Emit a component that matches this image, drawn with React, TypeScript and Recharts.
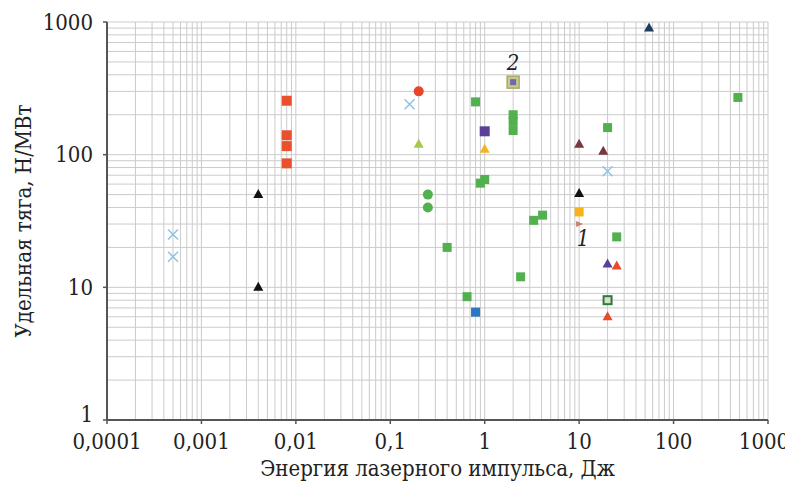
import React from "react";
import {
  ScatterChart,
  Scatter,
  XAxis,
  YAxis,
  CartesianGrid,
} from "recharts";

// ---- Axis ticks ----
const xTicks = [0.0001, 0.001, 0.01, 0.1, 1, 10, 100, 1000];
const xTickLabels = ["0,0001", "0,001", "0,01", "0,1", "1", "10", "100", "1000"];
const yTicks = [1, 10, 100, 1000];
const yTickLabels = ["1", "10", "100", "1000"];

const xTitle = "Энергия лазерного импульса, Дж";
const yTitle = "Удельная тяга, Н/МВт";

// minor grid values (1..9 for each decade)
const mult = [1, 2, 3, 4, 5, 6, 7, 8, 9];
const xGrid: number[] = [];
[0.0001, 0.001, 0.01, 0.1, 1, 10, 100].forEach((d) => mult.forEach((m) => xGrid.push(+(d * m).toPrecision(3))));
xGrid.push(1000);
const yGrid: number[] = [];
[1, 10, 100].forEach((d) => mult.forEach((m) => yGrid.push(d * m)));
yGrid.push(1000);

// ---- Data series (x: energy J, y: N/MW) ----
const redSquares = [
  { x: 0.008, y: 255 },
  { x: 0.008, y: 140 },
  { x: 0.008, y: 116 },
  { x: 0.008, y: 86 },
];
const blackTriangles = [
  { x: 0.004, y: 50 },
  { x: 0.004, y: 10 },
  { x: 10, y: 51 },
];
const lightBlueCrosses = [
  { x: 0.0005, y: 25 },
  { x: 0.0005, y: 17 },
  { x: 0.16, y: 240 },
  { x: 20, y: 75 },
];
const redCircles = [{ x: 0.2, y: 300 }];
const greenCircles = [
  { x: 0.25, y: 50 },
  { x: 0.25, y: 40 },
];
const greenSquares = [
  { x: 0.8, y: 250 },
  { x: 2, y: 200 },
  { x: 2, y: 178 },
  { x: 2, y: 152 },
  { x: 0.9, y: 61 },
  { x: 1, y: 65 },
  { x: 0.4, y: 20 },
  { x: 3.3, y: 32 },
  { x: 4.1, y: 35 },
  { x: 2.4, y: 12 },
  { x: 0.65, y: 8.5 },
  { x: 20, y: 160 },
  { x: 25, y: 24 },
  { x: 480, y: 270 },
];
const purpleSquares = [{ x: 1, y: 150 }];
const markedSquare2 = [{ x: 2, y: 352 }];
const yellowGreenTriangles = [{ x: 0.2, y: 120 }];
const orangeTriangles = [{ x: 1, y: 110 }];
const blueSquares = [{ x: 0.8, y: 6.5 }];
const maroonTriangles = [
  { x: 10, y: 120 },
  { x: 18, y: 106 },
];
const orangeSquares = [{ x: 10, y: 37 }];
const brownPoint1 = [{ x: 10, y: 30 }];
const purpleTriangles = [{ x: 20, y: 15 }];
const redTriangles = [
  { x: 25, y: 14.5 },
  { x: 20, y: 6 },
];
const outlineSquares = [{ x: 20, y: 8 }];
const navyTriangles = [{ x: 55, y: 900 }];

const font = "DejaVu Serif Condensed, DejaVu Serif, serif";
const FS = 22;

// ---- Shapes ----
const square = (color: string, s = 10) => (p: any) =>
  <rect x={p.cx - s / 2} y={p.cy - s / 2} width={s} height={s} fill={color} />;
const triangle = (color: string, w = 10, h = 9) => (p: any) =>
  <path d={`M${p.cx},${p.cy - h / 2 - 1} L${p.cx + w / 2},${p.cy + h / 2 - 1} L${p.cx - w / 2},${p.cy + h / 2 - 1} Z`} fill={color} />;
const circle = (color: string, r = 5) => (p: any) => <circle cx={p.cx} cy={p.cy} r={r} fill={color} />;
const cross = (color: string, s = 5) => (p: any) => (
  <path
    d={`M${p.cx - s},${p.cy - s} L${p.cx + s},${p.cy + s} M${p.cx - s},${p.cy + s} L${p.cx + s},${p.cy - s}`}
    stroke={color}
    strokeWidth={1.5}
    fill="none"
  />
);
const square2Shape = (p: any) => (
  <g>
    <rect x={p.cx - 6} y={p.cy - 6} width={12} height={12} fill="#c9c98f" stroke="#a9aa6a" strokeWidth={1.5} />
    <rect x={p.cx - 3} y={p.cy - 3} width={6} height={6} fill="#6e6aa6" />
    <text x={p.cx} y={p.cy - 12} textAnchor="middle" style={{ fontFamily: font, fontStyle: "italic", fontSize: FS }} fill="#222">
      2
    </text>
  </g>
);
const point1Shape = (p: any) => (
  <g>
    <path d={`M${p.cx - 3},${p.cy - 3} L${p.cx + 4},${p.cy} L${p.cx - 3},${p.cy + 3} Z`} fill="#c8806a" />
    <text x={p.cx + 4} y={p.cy + 22} textAnchor="middle" style={{ fontFamily: font, fontStyle: "italic", fontSize: FS }} fill="#222">
      1
    </text>
  </g>
);
const outlineSquareShape = (p: any) => (
  <rect x={p.cx - 4} y={p.cy - 4} width={8} height={8} fill="#cfe3c8" stroke="#2f7a3a" strokeWidth={2} />
);

const XTitle = (props: any) => {
  const vb = props.viewBox || {};
  return (
    <text x={vb.x + vb.width / 2} y={468} textAnchor="middle" style={{ fontFamily: font, fontSize: FS }} fill="#222">
      {xTitle}
    </text>
  );
};
const YTitle = () => (
  <text x={15} y={213} transform="rotate(-90 15 213)" textAnchor="middle" dominantBaseline="central" style={{ fontFamily: font, fontSize: FS }} fill="#222">
    {yTitle}
  </text>
);

const XTick = (props: any) => {
  const { x, y, payload } = props;
  const i = xTicks.indexOf(payload.value);
  const label = xTickLabels[i] ?? String(payload.value);
  const last = i === xTicks.length - 1;
  return (
    <text x={x} y={y} dx={last ? -4 : 0} dy="0.71em" textAnchor="middle" style={{ fontFamily: font, fontSize: FS }} fill="#222">
      {label}
    </text>
  );
};

const YTick = (props: any) => {
  const { x, y, payload } = props;
  const i = yTicks.indexOf(payload.value);
  const label = yTickLabels[i] ?? String(payload.value);
  const first = i === 0;
  return (
    <text x={x} y={y} dy={first ? "0.1em" : "0.355em"} textAnchor="end" style={{ fontFamily: font, fontSize: FS }} fill="#222">
      {label}
    </text>
  );
};

export default function App() {
  return (
    <div style={{ width: 785, height: 476, background: "#fff", fontFamily: font }}>
      <ScatterChart width={785} height={476} margin={{ top: 14, right: 25, bottom: 0, left: 39 }} style={{ fontFamily: font }}>
        <CartesianGrid
          stroke="#cbcbcb"
          strokeWidth={1}
          horizontalValues={yGrid}
          verticalValues={xGrid}
        />
        <XAxis
          type="number"
          dataKey="x"
          scale="log"
          domain={[0.0001, 1000]}
          ticks={xTicks}
          allowDataOverflow
          height={64}
          tickSize={4}
          tickMargin={9}
          axisLine={{ stroke: "#555", strokeWidth: 2 }}
          tickLine={{ stroke: "#555", strokeWidth: 1.5 }}
          tick={<XTick />}
          interval={0}
          label={<XTitle />}
        />
        <YAxis
          type="number"
          dataKey="y"
          scale="log"
          domain={[1, 1000]}
          ticks={yTicks}
          allowDataOverflow
          width={60}
          tickSize={4}
          tickMargin={10}
          axisLine={{ stroke: "#555", strokeWidth: 2 }}
          tickLine={{ stroke: "#555", strokeWidth: 1.5 }}
          tick={<YTick />}
          interval={0}
          label={<YTitle />}
        />
        <Scatter data={greenSquares} shape={square("#52b04e", 9)} isAnimationActive={false} />
        <Scatter data={redSquares} shape={square("#e9502b", 10)} isAnimationActive={false} />
        <Scatter data={blackTriangles} shape={triangle("#111111")} isAnimationActive={false} />
        <Scatter data={lightBlueCrosses} shape={cross("#8ec3e0")} isAnimationActive={false} />
        <Scatter data={redCircles} shape={circle("#e8452a")} isAnimationActive={false} />
        <Scatter data={greenCircles} shape={circle("#52b04e")} isAnimationActive={false} />
        <Scatter data={purpleSquares} shape={square("#5b3f96", 10)} isAnimationActive={false} />
        <Scatter data={markedSquare2} shape={square2Shape} isAnimationActive={false} />
        <Scatter data={yellowGreenTriangles} shape={triangle("#a8c84c")} isAnimationActive={false} />
        <Scatter data={orangeTriangles} shape={triangle("#f5b324")} isAnimationActive={false} />
        <Scatter data={blueSquares} shape={square("#2a78c2", 9)} isAnimationActive={false} />
        <Scatter data={maroonTriangles} shape={triangle("#7a3540")} isAnimationActive={false} />
        <Scatter data={orangeSquares} shape={square("#f7b21d", 9)} isAnimationActive={false} />
        <Scatter data={brownPoint1} shape={point1Shape} isAnimationActive={false} />
        <Scatter data={purpleTriangles} shape={triangle("#5b3f96")} isAnimationActive={false} />
        <Scatter data={redTriangles} shape={triangle("#e84a2a")} isAnimationActive={false} />
        <Scatter data={outlineSquares} shape={outlineSquareShape} isAnimationActive={false} />
        <Scatter data={navyTriangles} shape={triangle("#1f3a5f")} isAnimationActive={false} />
      </ScatterChart>
    </div>
  );
}
